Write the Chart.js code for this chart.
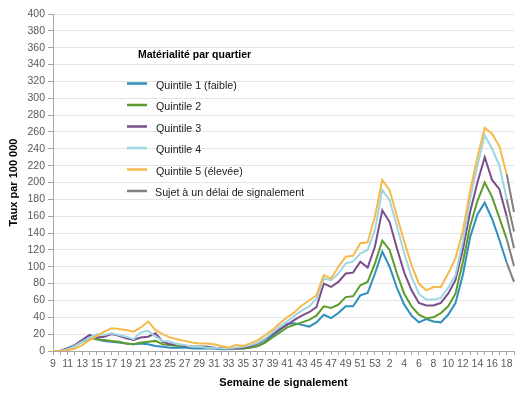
<!DOCTYPE html>
<html lang="fr">
<head>
<meta charset="UTF-8">
<title>Taux par quintile de matérialité</title>
<script src="https://cdn.jsdelivr.net/npm/chart.js"></script>
<style>
  body { margin: 0; background: #fff; }
</style>
</head>
<body>
<canvas id="chart" width="525" height="395"></canvas>
<script>
// semaines de signalement (9 à 53, puis 1 à 19)
const weeks = ['9','10','11','12','13','14','15','16','17','18','19','20','21','22','23','24','25','26','27','28','29','30','31','32','33','34','35','36','37','38','39','40','41','42','43','44','45','46','47','48','49','50','51','52','53',
  '1','2','3','4','5','6','7','8','9','10','11','12','13','14','15','16','17','18','19'];

const q1 = [0,0,3,7,13,19,14,12,11,10, 9,8,9,8,6,5,4,4,4,3, 3,3,3,2,2,3,3,4,6,11,
  18,25,32,33,31,29,34,43,39,45, 53,53,66,69,92,118,100,75,55,42, 34,38,35,34,43,57,90,135,162,176, 157,132,105,82];
const q2 = [0,0,3,6,11,15,14,13,12,11, 9,8,10,11,12,8,7,6,6,5, 5,5,4,3,3,3,3,4,6,10,
  16,22,28,31,34,37,42,53,51,55, 64,65,78,82,104,131,120,92,68,53, 43,39,40,45,53,68,105,148,178,200, 183,158,133,101];
const q3 = [0,0,3,7,13,19,16,17,20,18, 15,13,16,17,21,11,8,8,6,5, 5,5,4,3,3,3,4,6,9,14,
  20,26,31,37,42,46,52,80,76,82, 92,93,106,99,124,167,153,122,93,72, 57,54,54,57,68,84,120,165,200,230, 203,192,160,122];
const q4 = [0,0,2,6,11,16,20,19,21,19, 17,14,22,24,17,12,11,8,7,5, 5,4,4,3,3,4,5,7,10,15,
  22,29,35,42,48,53,62,86,84,92, 104,106,116,120,144,191,179,148,116,88, 68,61,61,63,75,90,130,180,220,256, 240,220,180,142];
const q5 = [0,0,1,3,7,13,18,23,27,26, 25,23,28,35,25,20,16,14,12,10, 9,9,8,6,4,7,6,9,13,19,
  25,33,40,46,54,60,66,90,86,100, 112,113,128,129,160,203,191,160,130,102, 80,72,76,76,92,110,142,190,230,265, 258,243,210,165];

// dernier segment : semaines sujettes à un délai de signalement
const firstDelayedIndex = 62;

const seriesNames = ['Quintile 1 (faible)', 'Quintile 2', 'Quintile 3', 'Quintile 4', 'Quintile 5 (élevée)'];
const seriesColors = ['#2f8fbd', '#5e9c2e', '#7a4e8c', '#9fd6e4', '#f6b94c'];
const delayName = 'Sujet à un délai de signalement';
const delayColor = '#7f7f7f';
const legendTitle = 'Matérialité par quartier';

const FONT = '"Liberation Sans", Arial, sans-serif';

const boxLegend = {
  id: 'boxLegend',
  afterDraw(chart) {
    const ctx = chart.ctx;
    ctx.save();
    ctx.textBaseline = 'middle';
    ctx.fillStyle = '#000';
    ctx.font = 'bold 10.5px ' + FONT;
    ctx.fillText(legendTitle, 138, 55);
    const names = seriesNames.concat([delayName]);
    const colors = seriesColors.concat([delayColor]);
    ctx.font = '10.7px ' + FONT;
    names.forEach((name, i) => {
      const y = 83.5 + i * 21.5;
      ctx.strokeStyle = colors[i];
      ctx.lineWidth = 2.5;
      ctx.beginPath();
      ctx.moveTo(127, y);
      ctx.lineTo(147, y);
      ctx.stroke();
      ctx.fillStyle = '#1a1a1a';
      ctx.fillText(name, i === 5 ? 155 : 156, y + 2.5);
    });
    ctx.restore();
  }
};

const allSeries = [q1, q2, q3, q4, q5];

new Chart(document.getElementById('chart'), {
  type: 'line',
  data: {
    labels: weeks,
    datasets: allSeries.map((vals, i) => ({
      label: seriesNames[i],
      data: vals,
      borderColor: seriesColors[i],
      borderWidth: 2,
      pointRadius: 0,
      tension: 0,
      order: 5 - i,
      segment: {
        borderColor: c => c.p0DataIndex >= firstDelayedIndex ? delayColor : undefined
      }
    }))
  },
  options: {
    responsive: false,
    animation: false,
    devicePixelRatio: 1,
    layout: { padding: { left: 0, right: 11, top: 14, bottom: 0 } },
    plugins: { legend: { display: false }, tooltip: { enabled: false } },
    scales: {
      x: {
        offset: false,
        grid: { drawOnChartArea: false, drawTicks: true, tickLength: 4, color: '#a6a6a6' },
        border: { color: '#a6a6a6' },
        ticks: {
          autoSkip: false, maxRotation: 0, minRotation: 0, padding: 3,
          color: '#595959', font: { family: FONT, size: 10.5 },
          callback: (v, i) => i % 2 === 0 ? weeks[i] : ''
        },
        title: { display: true, text: 'Semaine de signalement', color: '#000',
          font: { family: FONT, size: 11, weight: 'bold' }, padding: { top: 0, bottom: 5 } },
        afterFit: s => { s.height = 44; }
      },
      y: {
        min: 0, max: 400,
        grid: { color: '#e4e4e4', tickLength: 5, tickColor: '#a6a6a6' },
        border: { color: '#a6a6a6' },
        ticks: { stepSize: 20, padding: 3, color: '#595959', font: { family: FONT, size: 10.5 } },
        title: { display: true, text: 'Taux par 100 000', color: '#000',
          font: { family: FONT, size: 11, weight: 'bold' }, padding: { top: 7, bottom: 0 } },
        afterFit: s => { s.width = 53; }
      }
    }
  },
  plugins: [boxLegend]
});
</script>
</body>
</html>
